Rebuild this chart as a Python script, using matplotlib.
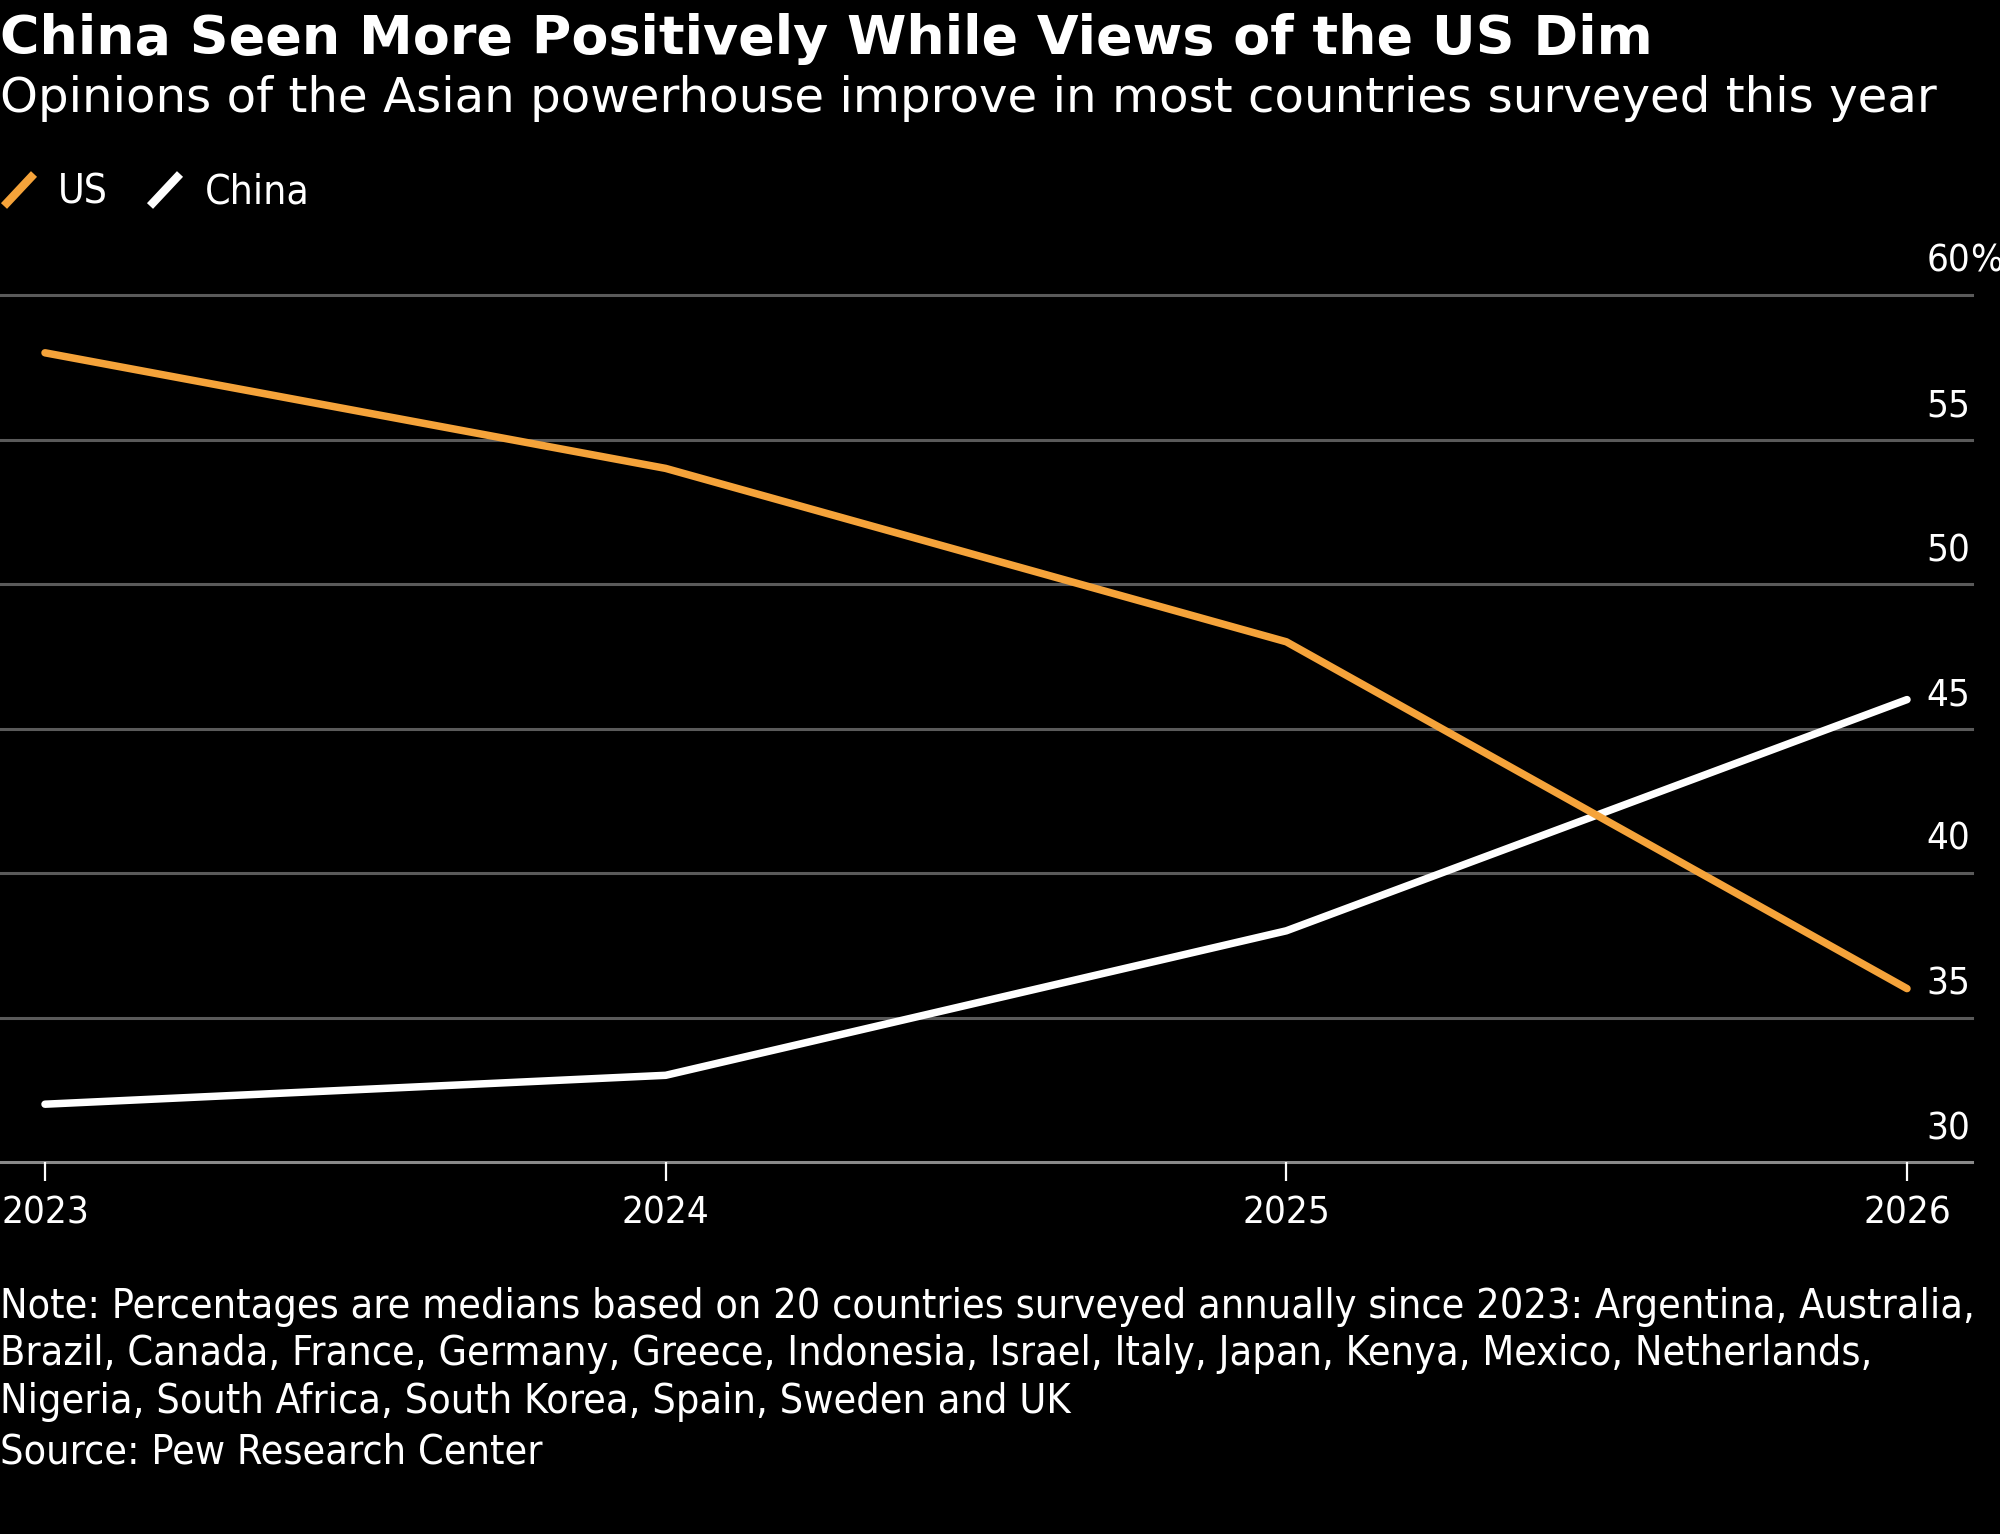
import matplotlib
matplotlib.use("Agg")
import matplotlib.pyplot as plt
from matplotlib.lines import Line2D
from matplotlib.transforms import offset_copy

# dados
anos = [2023, 2024, 2025, 2026]
us = [58, 54, 48, 36]
china = [32, 33, 38, 46]
yticks = [30, 35, 40, 45, 50, 55, 60]

titulo = "China Seen More Positively While Views of the US Dim"
subtitulo = "Opinions of the Asian powerhouse improve in most countries surveyed this year"
nota = ["Note: Percentages are medians based on 20 countries surveyed annually since 2023: Argentina, Australia,",
        "Brazil, Canada, France, Germany, Greece, Indonesia, Israel, Italy, Japan, Kenya, Mexico, Netherlands,",
        "Nigeria, South Africa, South Korea, Spain, Sweden and UK"]
fonte = "Source: Pew Research Center"

laranja = "#f5a33a"
cinza = "#5a5a5a"

W, H = 2000, 1534
DPI = 200
plt.rcParams['font.family'] = ['DejaVu Sans']
plt.rcParams['font.stretch'] = 'condensed'

fig = plt.figure(figsize=(W / DPI, H / DPI), dpi=DPI, facecolor="black")

def fx(px):
    return px / W

def fy(py):
    return 1 - py / H

# eixo: 2023 em x=45px, 2026 em x=1907px
ax_l, ax_r, ax_t, ax_b = 0, 1972, 295, 1162
ax = fig.add_axes([fx(ax_l), fy(ax_b), fx(ax_r - ax_l), (ax_b - ax_t) / H])
ax.set_facecolor("black")
pxano = (1907 - 45) / 3
ax.set_xlim(2023 - (45 - ax_l) / pxano, 2023 + (ax_r - 45) / pxano)
ax.set_ylim(30, 60)

for v in yticks:
    cor = "#8a8a8a" if v == 30 else cinza
    ax.axhline(v, color=cor, lw=1.1, zorder=1, clip_on=False)

ax.plot(anos, china, color="white", lw=2.7, solid_capstyle="round", zorder=3)
ax.plot(anos, us, color=laranja, lw=2.7, solid_capstyle="round", zorder=4)

for s in ax.spines.values():
    s.set_visible(False)
ax.set_yticks([])
ax.set_xticks(anos)
ax.set_xticklabels([str(a) for a in anos], color="white", fontsize=13.8)
ax.tick_params(axis="x", colors="white", length=7, width=0.8, pad=5, labelcolor="white")

# rótulos do eixo y acima das linhas, alinhados à direita
tr = offset_copy(ax.transData, fig=fig, x=0, y=23 * 72 / DPI, units="points")
xr = ax.get_xlim()[1] - 2 / pxano
for v in yticks:
    ax.text(xr, v, str(v), color="white", fontsize=13.8, ha="right", va="baseline",
            transform=tr, clip_on=False)
    if v == 60:
        ax.text(xr, v, "%", color="white", fontsize=13.8, ha="left", va="baseline",
                transform=tr, clip_on=False)

# títulos
fig.text(0, fy(54), titulo, color="white", fontsize=19.4, fontweight="bold",
         fontstretch="normal", ha="left", va="baseline")
fig.text(0, fy(112), subtitulo, color="white", fontsize=17.4, fontstretch="normal",
         ha="left", va="baseline")

# legenda
for x0, cor, rot, xt in [(4, laranja, "US", 58), (150, "white", "China", 205)]:
    fig.add_artist(Line2D([fx(x0), fx(x0 + 30)], [fy(206), fy(174)], color=cor, lw=3.0,
                          transform=fig.transFigure, solid_capstyle="butt"))
    fig.text(fx(xt), fy(204), rot, color="white", fontsize=14.7, ha="left", va="baseline")

# nota e fonte
for i, linha in enumerate(nota):
    fig.text(0, fy(1318 + i * 47.5), linha, color="white", fontsize=14.8, ha="left", va="baseline")
fig.text(0, fy(1463), fonte, color="white", fontsize=14.8, ha="left", va="baseline")

fig.savefig("out.png", dpi=DPI, facecolor="black")
